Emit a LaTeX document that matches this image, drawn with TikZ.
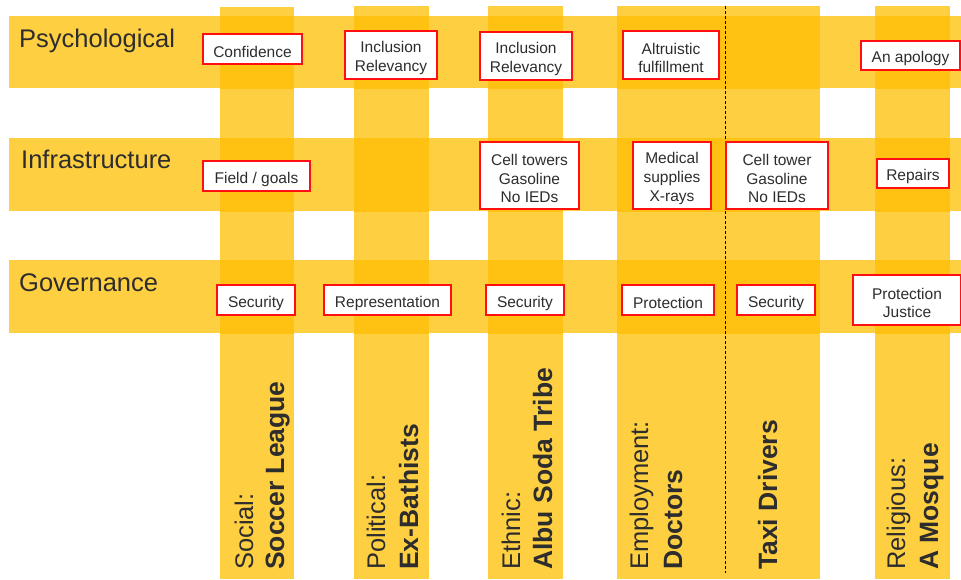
\documentclass[tikz,border=0pt]{standalone}
\usepackage{fontspec}
\setmainfont{Liberation Sans}
\definecolor{bandlight}{RGB}{255,207,66}
\definecolor{banddark}{RGB}{255,194,18}
\definecolor{txt}{RGB}{45,45,45}
\definecolor{cellred}{RGB}{255,15,15}
\newcommand\mkcell[6]{%
  \node[cellbox, minimum width=#4, minimum height=#5] (#1) at (#2,#3) {};
  \node[celltext] (#1t) at ([yshift=-3pt]#1.center) {#6};}
\begin{document}
\begin{tikzpicture}[x=1pt,y=-1pt,
  lightfill/.style={fill=bandlight, draw=none},
  darkfill/.style={fill=banddark, draw=none},
  cellbox/.style={draw=cellred, line width=1.3pt, fill=white, inner sep=0pt},
  celltext/.style={align=center, text=txt, inner sep=0pt,
    font=\fontsize{15.5}{18.6}\selectfont},
  rowlab/.style={anchor=base west, inner sep=0pt, text=txt, font=\fontsize{25.5}{30}\selectfont},
  colreg/.style={anchor=base west, rotate=90, inner sep=0pt, text=txt, font=\fontsize{25.5}{30}\selectfont},
  colbold/.style={anchor=base west, rotate=90, inner sep=0pt, text=txt, font=\fontsize{26.5}{30}\bfseries\selectfont},
  divider/.style={draw=black, line width=0.9pt, dash pattern=on 3pt off 2pt}
]
\useasboundingbox (0,0) rectangle (961,579);
% horizontal bands
\path[lightfill] (9,16) rectangle (961,88);
\path[lightfill] (9,138) rectangle (961,211);
\path[lightfill] (9,260) rectangle (961,333);
% vertical columns
\path[lightfill] (220,7) rectangle (294,579);
\path[lightfill] (354,6) rectangle (429,579);
\path[lightfill] (488,6) rectangle (563,579);
\path[lightfill] (617,6) rectangle (820,579);
\path[lightfill] (875,6) rectangle (950,579);
% overlaps
\foreach \ya/\yb in {16/88,138/211,260/333}{
  \begin{scope}
    \clip (9,\ya) rectangle (961,\yb);
    \path[darkfill] (220,7) rectangle (294,579);
    \path[darkfill] (354,6) rectangle (429,579);
    \path[darkfill] (488,6) rectangle (563,579);
    \path[darkfill] (617,6) rectangle (820,579);
    \path[darkfill] (875,6) rectangle (950,579);
  \end{scope}}
% divider
\coordinate (dtop) at (725,6);
\coordinate (dbot) at (725,573);
\draw[divider] (dtop) -- (dbot);
% row labels
\node[rowlab] (psy) at (19,47) {Psychological};
\node[rowlab] (inf) at (21,168) {Infrastructure};
\node[rowlab] (gov) at (19,291) {Governance};
% row 1
\mkcell{c11}{252.5}{49}{99}{30}{Confidence}
\mkcell{c12}{391}{55}{92}{48}{Inclusion\\Relevancy}
\mkcell{c13}{526}{56}{92}{48}{Inclusion\\Relevancy}
\mkcell{c14}{671}{55}{96}{48}{Altruistic\\fulfillment}
\mkcell{c16}{910.5}{55.5}{99}{29}{An apology}
% row 2
\mkcell{c21}{256.5}{176}{107}{30}{Field / goals}
\mkcell{c23}{529.5}{175.5}{99}{67}{Cell towers\\Gasoline\\No IEDs}
\mkcell{c24}{672}{175.5}{78}{67}{Medical\\supplies\\X-rays}
\mkcell{c25}{777}{175.5}{102}{67}{Cell tower\\Gasoline\\No IEDs}
\mkcell{c26}{913}{173.5}{72}{29}{Repairs}
% row 3
\mkcell{c31}{256}{300}{78}{30}{Security}
\mkcell{c32}{387.5}{300}{127}{30}{Representation}
\mkcell{c33}{525}{300}{78}{30}{Security}
\mkcell{c34}{668}{300}{92}{30}{Protection}
\mkcell{c35}{776}{300}{78}{30}{Security}
\mkcell{c36}{907}{300}{108}{50}{Protection\\Justice}
% column labels
\node[colreg] (l1a) at (253,570) {Social:};
\node[colbold] (l1b) at (284,570) {Soccer League};
\node[colreg] (l2a) at (385,570) {Political:};
\node[colbold] (l2b) at (418,570) {Ex-Bathists};
\node[colreg] (l3a) at (520,570) {Ethnic:};
\node[colbold] (l3b) at (552,570) {Albu Soda Tribe};
\node[colreg] (l4a) at (648,570) {Employment:};
\node[colbold] (l4b) at (682,570) {Doctors};
\node[colbold] (l5b) at (777,570) {Taxi Drivers};
\node[colreg] (l6a) at (905,570) {Religious:};
\node[colbold] (l6b) at (938,570) {A Mosque};
\end{tikzpicture}
\end{document}
